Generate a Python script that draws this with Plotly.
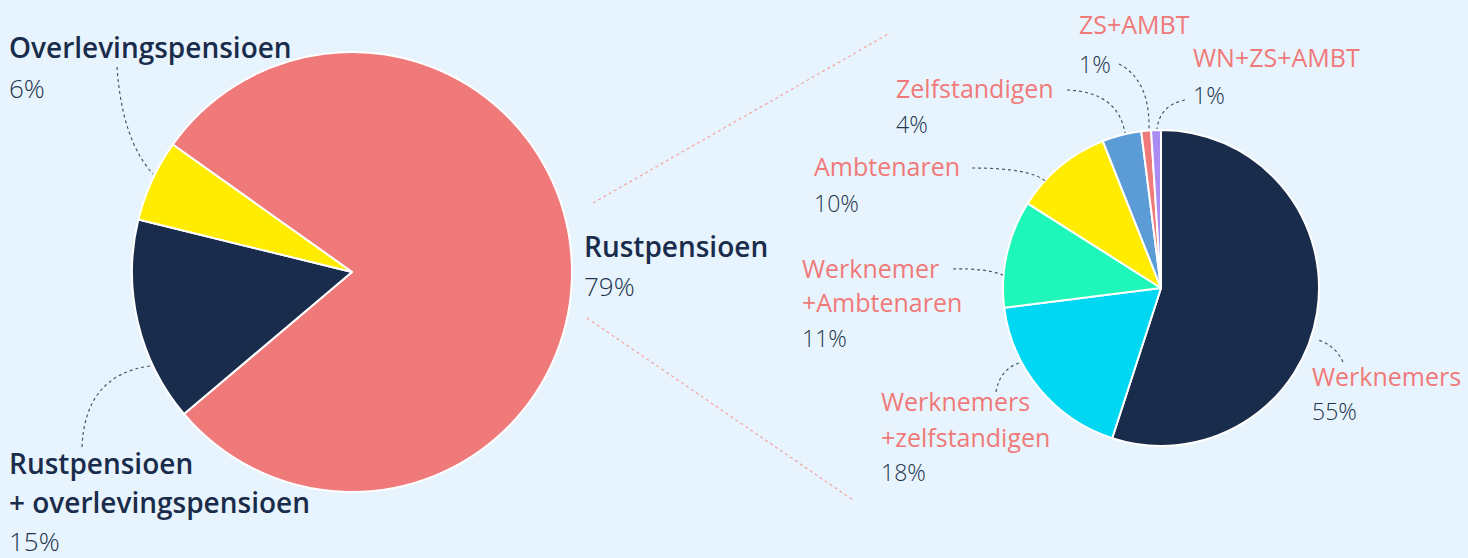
import plotly.graph_objects as go

W, H = 1468, 558

# ---------------- data ----------------
main_labels = ["Rustpensioen", "Rustpensioen<br>+ overlevingspensioen", "Overlevingspensioen"]
main_values = [79, 15, 6]
main_colors = ["#F07979", "#1A2C4B", "#FFEC00"]

sub_labels = ["Werknemers", "Werknemers<br>+zelfstandigen", "Werknemer<br>+Ambtenaren",
              "Ambtenaren", "Zelfstandigen", "ZS+AMBT", "WN+ZS+AMBT"]
sub_values = [55, 18, 11, 10, 4, 1, 1]
sub_colors = ["#1A2C4B", "#00D7F2", "#1EF7B9", "#FFEC00", "#5B9BD6", "#F07979", "#A98BF1"]

BG = "#E8F4FD"
NAVY = "#1A2C4B"
PCT = "#24344F"
CORAL = "#F07979"
FONT = "Open Sans"


def px(x):
    return x / W


def py(y):
    return 1 - y / H


def dom(cx, cy, r):
    return dict(x=[px(cx - r), px(cx + r)], y=[py(cy + r), py(cy - r)])


fig = go.Figure()

fig.add_trace(go.Pie(
    labels=main_labels, values=main_values, sort=False, direction="clockwise",
    rotation=-54.6, marker=dict(colors=main_colors, line=dict(color="white", width=2)),
    textinfo="none", hoverinfo="label+percent", domain=dom(352, 272, 220), showlegend=False,
))
fig.add_trace(go.Pie(
    labels=sub_labels, values=sub_values, sort=False, direction="clockwise",
    rotation=0, marker=dict(colors=sub_colors, line=dict(color="white", width=2)),
    textinfo="none", hoverinfo="label+percent", domain=dom(1161, 288, 158), showlegend=False,
))

annotations = []
shapes = []


def add_label(name, value, x, y_lines, y_pct, color, size, pct_size, weight):
    for line, yy in zip(name.split("<br>"), y_lines):
        annotations.append(dict(text=line, x=px(x - 3), y=py(yy), xref="paper", yref="paper",
                                xanchor="left", yanchor="middle", showarrow=False,
                                font=dict(family=FONT, size=size, color=color, weight=weight)))
    annotations.append(dict(text=f"{value}%", x=px(x - 3), y=py(y_pct), xref="paper", yref="paper",
                            xanchor="left", yanchor="middle", showarrow=False,
                            font=dict(family=FONT, size=pct_size, color=PCT, weight=300)))


def leader(p0, c, p1, color="#4A566B"):
    path = "M {} {} Q {} {} {} {}".format(px(p0[0]), py(p0[1]), px(c[0]), py(c[1]), px(p1[0]), py(p1[1]))
    shapes.append(dict(type="path", path=path, xref="paper", yref="paper",
                       line=dict(color=color, width=1.2, dash="dot")))


# main pie labels
main_pos = {
    0: (585, [246], 286),
    1: (10, [463, 502], 541),
    2: (10, [47], 88),
}
for i, (name, v) in enumerate(zip(main_labels, main_values)):
    x, yl, yp = main_pos[i]
    add_label(name, v, x, yl, yp, NAVY, 28, 26, 600)

# sub pie labels
sub_pos = {
    0: (1313, [376], 411),
    1: (882, [401, 437], 472),
    2: (803, [268, 302], 338),
    3: (815, [166], 203),
    4: (897, [88], 124),
    5: (1080, [24], 64),
    6: (1194, [57], 95),
}
for i, (name, v) in enumerate(zip(sub_labels, sub_values)):
    x, yl, yp = sub_pos[i]
    add_label(name, v, x, yl, yp, CORAL, 25, 23, 500)

# leader lines
leader((117, 67), (122, 140), (153, 174))
leader((82, 447), (85, 375), (150, 366))
leader((1343, 362), (1335, 345), (1318, 340))
leader((996, 392), (1000, 368), (1022, 362))
leader((953, 269), (985, 268), (1003, 275))
leader((972, 168), (1030, 168), (1045, 181))
leader((1067, 90), (1118, 92), (1125, 133))
leader((1119, 64), (1150, 80), (1149, 129))
leader((1185, 100), (1160, 105), (1157, 129))

# zoom connector lines
shapes.append(dict(type="line", xref="paper", yref="paper", x0=px(593), y0=py(203), x1=px(890), y1=py(33),
                   line=dict(color="#F4A3A3", width=1.2, dash="dot")))
shapes.append(dict(type="line", xref="paper", yref="paper", x0=px(587), y0=py(318), x1=px(853), y1=py(500),
                   line=dict(color="#F4A3A3", width=1.2, dash="dot")))

fig.update_layout(
    width=W, height=H, margin=dict(l=0, r=0, t=0, b=0),
    paper_bgcolor=BG, plot_bgcolor=BG,
    annotations=annotations, shapes=shapes,
    font=dict(family=FONT),
)

fig.write_html(
    "out.html",
    config={"displayModeBar": False},
    post_script="document.body.style.margin='0';document.body.style.padding='0';"
                "document.body.style.overflow='hidden';document.body.style.background='" + BG + "';",
)
